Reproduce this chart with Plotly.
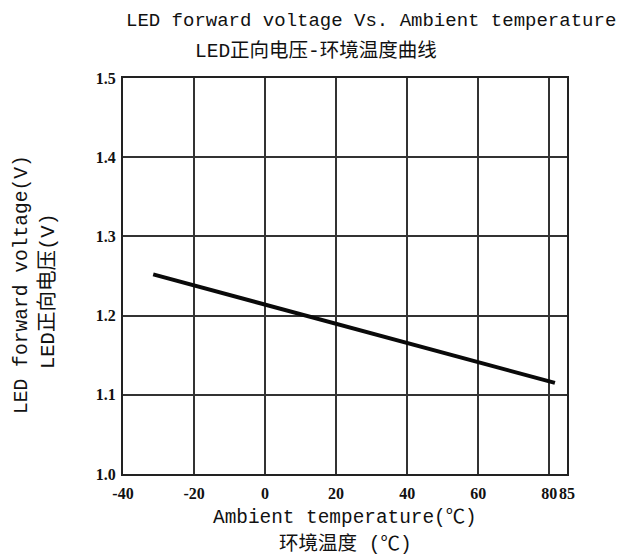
import plotly.graph_objects as go

temps = [-31.5, -20, 0, 20, 40, 60, 81.6]
vf = [1.252, 1.238, 1.213, 1.189, 1.165, 1.141, 1.115]
x_ticks = [-40, -20, 0, 20, 40, 60, 80, 85]
x_tick_text = ["-40", "-20", "0", "20", "40", "60", "80", "85"]
y_ticks = [1.0, 1.1, 1.2, 1.3, 1.4, 1.5]
y_tick_text = ["1.0", "1.1", "1.2", "1.3", "1.4", "1.5"]

title1 = "LED forward voltage Vs. Ambient temperature"
title2 = "LED正向电压-环境温度曲线"
xtitle1 = "Ambient temperature(℃)"
xtitle2 = "环境温度 (℃)"
ytitle1 = "LED forward voltage(V)"
ytitle2 = "LED正向电压(V)"

TXT = "Liberation Mono, Noto Sans CJK SC"
TICK = dict(family="Liberation Serif", size=16, color="#111", weight="bold")

fig = go.Figure()
fig.add_trace(go.Scatter(x=temps, y=vf, mode="lines",
                         line=dict(color="#0a0a0a", width=4), showlegend=False))

fig.update_layout(
    width=618, height=549,
    margin=dict(l=115, r=59, t=70, b=83),
    paper_bgcolor="white", plot_bgcolor="white",
    xaxis=dict(range=[-40, 85], tickvals=x_ticks, ticktext=x_tick_text,
               showgrid=True, gridcolor="#333", gridwidth=2,
               showline=True, linecolor="#222", linewidth=2, mirror=True,
               zeroline=False, ticks="", tickfont=TICK, ticklabelstandoff=4,
               tickangle=0, automargin=False),
    yaxis=dict(range=[1.0, 1.5], tickvals=y_ticks, ticktext=y_tick_text,
               showgrid=True, gridcolor="#333", gridwidth=2,
               showline=True, linecolor="#222", linewidth=2, mirror=True,
               zeroline=False, ticks="", tickfont=TICK, ticklabelstandoff=2,
               automargin=False),
)

def ann(text, x, y, angle=0, size=19):
    fig.add_annotation(text=text, x=x, y=y, xref="paper", yref="paper",
                       xanchor="center", yanchor="middle", showarrow=False,
                       textangle=angle, font=dict(family=TXT, size=size, color="#111"))

ann(title1, 0.5586, 1.1439, size=19)
ann(title2, 0.4347, 1.0657, size=19.5)
ann(xtitle1, 0.5, -0.111, size=19.4)
ann(xtitle2, 0.5, -0.179, size=19.5)
ann(ytitle1, -0.2275, 0.48, -90, size=19.6)
ann(ytitle2, -0.169, 0.462, -90, size=20.5)

fig.write_html("out.html")
